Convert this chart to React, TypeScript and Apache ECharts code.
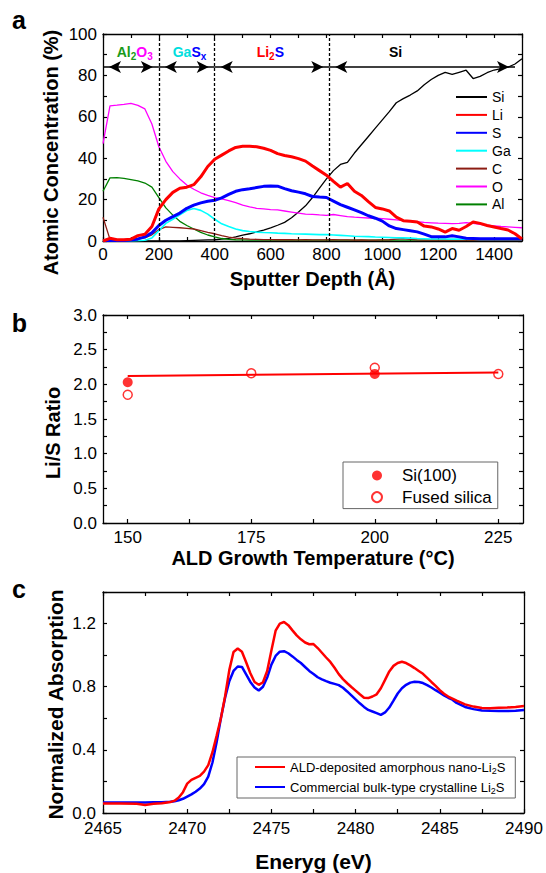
import React, { useEffect, useRef } from 'react';
import * as echarts from 'echarts';

const FONT = '"Liberation Sans", Arial, Helvetica, sans-serif';

// ---------- Panel a: depth profile ----------
const depth = [
  0, 25, 50, 75, 100, 125, 150, 175, 200, 225,
  250, 275, 300, 325, 350, 375, 400, 425, 450, 475,
  500, 525, 550, 575, 600, 625, 650, 675, 700, 725,
  750, 775, 800, 825, 850, 875, 900, 925, 950, 975,
  1000, 1025, 1050, 1075, 1100, 1125, 1150, 1175, 1200, 1225,
  1250, 1275, 1300, 1325, 1350, 1375, 1400, 1425, 1450, 1475,
  1500,
];
const siConc = [
  0, 0, 0, 0, 0, 0, 0, 0, 0, 0,
  0, 0.1, 0.2, 0.3, 0.4, 0.5, 0.6, 0.9, 1.3, 2.0,
  2.8, 3.5, 4.4, 5.3, 6.3, 7.6, 9.0, 11.2, 14.0, 17.0,
  21.0, 25.5, 30.0, 34.0, 37.0, 38.0, 42.5, 46.5, 50.5, 54.5,
  58.5, 62.5, 66.8, 68.8, 70.5, 72.5, 75.5, 78.0, 80.0, 81.5,
  80.5, 81.5, 82.5, 78.5, 79.5, 81.3, 82.6, 83.3, 84.0, 85.5,
  88.0,
];
const liConc = [
  0, 1.3, 0.6, 0.6, 0.9, 2.6, 3.3, 7.0, 15.5, 20.0,
  23.5, 25.5, 26.0, 27.2, 31.0, 36.0, 39.5, 41.5, 43.5, 45.2,
  45.8, 45.8, 45.5, 44.8, 43.8, 42.2, 41.3, 40.7, 39.8, 38.6,
  36.2, 34.0, 31.8, 28.8, 26.0, 27.8, 24.0, 22.0, 19.0, 16.2,
  15.5, 14.5, 11.5, 9.8, 9.5, 9.2, 7.2, 6.8, 5.8, 4.3,
  6.0, 5.2, 7.0, 9.2, 8.5, 7.5, 6.8, 6.0, 5.3, 3.5,
  1.0,
];
const sConc = [
  0.3, 0.3, 0.3, 0.3, 0.5, 1.0, 2.0, 4.0, 7.5, 10.0,
  11.8, 13.5, 15.8, 17.3, 18.4, 19.2, 19.7, 20.8, 22.5, 24.0,
  24.8, 25.2, 25.8, 26.4, 26.6, 26.5, 25.3, 24.3, 23.6, 22.8,
  21.5, 21.2, 21.0, 19.3, 17.6, 16.3, 15.0, 13.7, 12.2, 11.0,
  9.6, 7.3, 6.0, 5.5, 5.0, 4.4, 3.3, 2.1, 2.0, 2.0,
  2.5, 2.0, 1.3, 1.2, 1.1, 1.1, 1.1, 1.1, 1.1, 1.1,
  1.1,
];
const gaConc = [
  0, 0, 0, 0, 0, 0.1, 0.4, 1.5, 5.0, 8.5,
  10.5, 12.7, 14.7, 15.7, 14.8, 13.0, 10.5, 8.3, 7.0, 5.8,
  5.0, 4.6, 4.3, 4.1, 4.0, 3.8, 3.7, 3.5, 3.4, 3.3,
  3.2, 3.1, 3.1, 2.9, 2.7, 2.5, 2.3, 2.2, 2.1, 1.9,
  1.8, 1.7, 1.6, 1.5, 1.4, 1.2, 1.1, 1.0, 1.0, 1.0,
  0.9, 0.9, 0.9, 0.9, 0.8, 0.8, 0.8, 0.8, 0.8, 0.8,
  0.8,
];
const cConc = [
  11.5, 0.8, 0.6, 0.5, 0.6, 1.0, 1.5, 3.0, 5.5, 6.8,
  6.6, 6.4, 6.1, 5.8, 5.0, 4.2, 3.5, 2.6, 1.9, 1.4,
  1.1, 0.9, 0.8, 0.7, 0.7, 0.6, 0.6, 0.6, 0.5, 0.6,
  0.5, 0.5, 0.5, 0.6, 0.5, 0.5, 0.4, 0.5, 0.4, 0.4,
  0.5, 0.6, 0.9, 1.1, 0.8, 0.5, 0.4, 0.4, 0.4, 0.4,
  0.4, 0.4, 0.4, 0.4, 0.4, 0.4, 0.4, 0.4, 0.4, 0.4,
  0.4,
];
const oConc = [
  47.0, 65.3, 65.6, 66.0, 66.5, 65.5, 63.8, 56.5, 45.5, 38.5,
  33.5, 30.0, 27.0, 25.0, 23.3, 22.0, 21.0, 20.3, 19.5, 18.5,
  17.3, 16.5, 15.8, 15.5, 15.2, 15.0, 14.5, 14.0, 13.5, 13.0,
  12.9, 12.6, 12.4, 12.8, 12.3, 11.8, 11.5, 11.3, 11.1, 11.0,
  10.8, 10.5, 10.2, 9.8, 9.6, 9.3, 9.0, 8.8, 8.6, 8.5,
  8.4, 8.5, 8.9, 8.5, 8.0, 7.6, 7.3, 7.0, 6.8, 6.6,
  6.4,
];
const alConc = [
  24.0, 30.5, 30.6, 30.3, 29.7, 29.0, 28.0, 26.0, 21.0, 16.0,
  12.5, 9.5, 7.5, 5.8, 4.2, 2.9, 2.0, 1.2, 0.8, 0.6,
  0.5, 0.4, 0.4, 0.4, 0.4, 0.4, 0.4, 0.4, 0.4, 0.4,
  0.4, 0.4, 0.4, 0.4, 0.4, 0.4, 0.4, 0.4, 0.4, 0.4,
  0.4, 0.4, 0.4, 0.4, 0.4, 0.4, 0.4, 0.4, 0.4, 0.4,
  0.4, 0.4, 0.4, 0.4, 0.4, 0.4, 0.4, 0.4, 0.4, 0.4,
  0.4,
];
const elementNames = ['Si', 'Li', 'S', 'Ga', 'C', 'O', 'Al'];
const layerSpans = [[0, 200], [200, 400], [400, 810], [810, 1475]];
const layerDividers = [200, 400, 810];
const arrowLevel = 84;

// ---------- Panel b: Li/S ratio ----------
const siTemps = [150, 200];
const siRatio = [2.03, 2.15];
const fusedTemps = [150, 175, 200, 225];
const fusedRatio = [1.85, 2.16, 2.24, 2.15];
const fitTemps = [150, 225];
const fitRatio = [2.12, 2.17];
const tempTickValues = [150, 162.5, 175, 187.5, 200, 212.5, 225];
const tempLabelValues = [150, 175, 200, 225];

// ---------- Panel c: XANES ----------
const energy = [
  2465, 2466, 2467, 2467.5, 2468, 2468.5,
  2469, 2469.25, 2469.5, 2469.75,
  2470, 2470.25, 2470.5, 2470.75,
  2471, 2471.25, 2471.5, 2471.75,
  2472, 2472.25, 2472.5, 2472.75,
  2473, 2473.25, 2473.5, 2473.75,
  2474, 2474.25, 2474.5, 2474.75,
  2475, 2475.25, 2475.5, 2475.75,
  2476, 2476.25, 2476.5, 2476.75,
  2477, 2477.25, 2477.5, 2477.75,
  2478, 2478.25, 2478.5, 2478.75,
  2479, 2479.25, 2479.5, 2479.75,
  2480, 2480.25, 2480.5, 2480.75,
  2481, 2481.25, 2481.5, 2481.75,
  2482, 2482.25, 2482.5, 2482.75,
  2483, 2483.25, 2483.5, 2483.75,
  2484, 2484.25, 2484.5, 2484.75,
  2485, 2485.25, 2485.5, 2485.75,
  2486, 2486.5, 2487, 2487.5, 2488, 2488.5, 2489, 2489.5, 2490,
];
const aldAbs = [
  0.060, 0.060, 0.058, 0.050, 0.058, 0.062,
  0.069, 0.078, 0.098, 0.132,
  0.186, 0.210, 0.223, 0.235,
  0.262, 0.303, 0.385, 0.490,
  0.600, 0.740, 0.905, 1.020,
  1.042, 1.022, 0.955, 0.885,
  0.830, 0.812, 0.828, 0.900,
  1.030, 1.155, 1.200, 1.210,
  1.190, 1.157, 1.125, 1.100,
  1.080, 1.069, 1.070, 1.045,
  1.015, 0.985, 0.957, 0.920,
  0.880, 0.848, 0.822, 0.798,
  0.775, 0.752, 0.730, 0.728,
  0.738, 0.752, 0.790, 0.843,
  0.897, 0.932, 0.950, 0.958,
  0.950, 0.935, 0.918, 0.900,
  0.882, 0.856, 0.830, 0.805,
  0.778, 0.755, 0.738, 0.725,
  0.712, 0.688, 0.674, 0.665, 0.664, 0.667, 0.668, 0.672, 0.678,
];
const bulkAbs = [
  0.067, 0.067, 0.067, 0.067, 0.068, 0.068,
  0.071, 0.075, 0.081, 0.090,
  0.104, 0.118, 0.135, 0.155,
  0.183, 0.230, 0.320, 0.450,
  0.600, 0.730, 0.835, 0.900,
  0.928, 0.925, 0.878, 0.830,
  0.795, 0.776, 0.800, 0.858,
  0.940, 0.995, 1.022, 1.025,
  1.012, 0.992, 0.970, 0.950,
  0.925, 0.900, 0.881, 0.860,
  0.846, 0.835, 0.825, 0.818,
  0.810, 0.793, 0.770, 0.745,
  0.720, 0.695, 0.672, 0.653,
  0.643, 0.633, 0.622, 0.637,
  0.668, 0.712, 0.757, 0.790,
  0.812, 0.826, 0.831, 0.830,
  0.823, 0.810, 0.795, 0.778,
  0.762, 0.745, 0.730, 0.718,
  0.697, 0.672, 0.658, 0.650, 0.647, 0.646, 0.646, 0.648, 0.653,
];
const ALD_NAME = 'ALD-deposited amorphous nano-Li2S';
const BULK_NAME = 'Commercial bulk-type crystalline Li2S';

// ---------- helpers ----------
const pairs = (xs: number[], ys: number[]) => xs.map((x, i) => [x, ys[i]]);
const isMult = (v: number, step: number) => Math.abs(v / step - Math.round(v / step)) < 1e-6;

const axisLine = { show: true, onZero: false, lineStyle: { color: '#000', width: 1.3 } };
const tickStyle = (extra: any = {}) => ({
  show: true, inside: true, length: 4, lineStyle: { color: '#000', width: 1.2 }, ...extra,
});
const labelStyle = (extra: any) => ({
  show: true, fontSize: 17, lineHeight: 14, fontFamily: FONT, color: '#000', ...extra,
});
const nameStyle = (size: number, extra: any = {}) => ({
  fontSize: size, lineHeight: 18, fontWeight: 'bold', fontFamily: FONT, color: '#000', ...extra,
});
const baseAxis = (gridIndex: number, position: string, min: number, max: number, extra: any) => ({
  type: 'value', gridIndex, position, min, max,
  splitLine: { show: false },
  axisLine,
  axisTick: tickStyle(),
  axisLabel: { show: false },
  nameMoveOverlap: false,
  ...extra,
});

const lineSeries = (name: string, ys: number[], color: string, width: number, z: number) => ({
  name, type: 'line', xAxisIndex: 0, yAxisIndex: 0,
  data: pairs(depth, ys), symbol: 'none', z,
  lineStyle: { color, width }, itemStyle: { color },
});

function buildOption() {
  const xAxis = [
    baseAxis(0, 'bottom', 0, 1500, {
      interval: 100,
      axisLabel: labelStyle({ margin: 6.5, formatter: (v: number) => (isMult(v, 200) ? String(v) : '') }),
      name: 'Sputter Depth (Å)', nameLocation: 'middle', nameGap: 29, nameTextStyle: nameStyle(20),
    }),
    baseAxis(0, 'top', 0, 1500, { interval: 100 }),
    baseAxis(1, 'bottom', 145, 230, {
      axisTick: tickStyle({ customValues: tempTickValues }),
      axisLabel: labelStyle({ margin: 7, customValues: tempLabelValues }),
      name: 'ALD Growth Temperature (°C)', nameLocation: 'middle', nameGap: 25.5, nameTextStyle: nameStyle(20),
    }),
    baseAxis(1, 'top', 145, 230, { axisTick: tickStyle({ customValues: tempTickValues }) }),
    baseAxis(2, 'bottom', 2465, 2490, {
      interval: 2.5,
      axisLabel: labelStyle({ margin: 8.5, formatter: (v: number) => (isMult(v, 5) ? String(v) : '') }),
      name: 'Eneryg (eV)', nameLocation: 'middle', nameGap: 39.5, nameTextStyle: nameStyle(21),
    }),
    baseAxis(2, 'top', 2465, 2490, { interval: 2.5 }),
  ];
  const yAxis = [
    baseAxis(0, 'left', 0, 100, {
      interval: 10,
      axisLabel: labelStyle({ margin: 6, formatter: (v: number) => (isMult(v, 20) ? String(v) : '') }),
      name: 'Atomic Concentration (%)', nameLocation: 'middle', nameGap: 43,
      nameTextStyle: nameStyle(20, { padding: [0, 30, 0, 0] }),
    }),
    baseAxis(0, 'right', 0, 100, { interval: 10 }),
    baseAxis(1, 'left', 0, 3, {
      interval: 0.25,
      axisLabel: labelStyle({ margin: 6, formatter: (v: number) => (isMult(v, 0.5) ? v.toFixed(1) : '') }),
      name: 'Li/S Ratio', nameLocation: 'middle', nameGap: 41,
      nameTextStyle: nameStyle(20, { padding: [0, 28, 0, 0] }),
    }),
    baseAxis(1, 'right', 0, 3, { interval: 0.25 }),
    baseAxis(2, 'left', 0, 1.4, {
      interval: 0.2,
      axisLabel: labelStyle({ margin: 7, formatter: (v: number) => (isMult(v, 0.4) ? v.toFixed(1) : '') }),
      name: 'Normalized Absorption', nameLocation: 'middle', nameGap: 39,
      nameTextStyle: nameStyle(21, { padding: [0, 4, 0, 0] }),
    }),
    baseAxis(2, 'right', 0, 1.4, { interval: 0.2 }),
  ];

  const richLegend = {
    t: { fontSize: 13, fontFamily: FONT, color: '#000', lineHeight: 16 },
    s: { fontSize: 9, fontFamily: FONT, color: '#000', lineHeight: 9, padding: [7, 0, 0, 0] },
  };

  const legend = [
    {
      orient: 'vertical', left: 455, top: 90, padding: 0,
      itemWidth: 31, itemHeight: 14, itemGap: 3.9, selectedMode: false,
      itemStyle: { opacity: 0 },
      data: elementNames,
      textStyle: { fontSize: 14, fontFamily: FONT, color: '#000' },
    },
    {
      orient: 'vertical', left: 343, top: 462, padding: [5, 6, 3, 28],
      itemWidth: 40, itemHeight: 10, itemGap: 4.6, selectedMode: false,
      borderColor: '#666', borderWidth: 1,
      data: ['Si(100)', 'Fused silica'],
      textStyle: { fontSize: 17, fontFamily: FONT, color: '#000' },
    },
    {
      orient: 'vertical', left: 237, top: 757, padding: [2, 10, 3, 17],
      itemWidth: 30, itemHeight: 13, itemGap: 4, selectedMode: false,
      itemStyle: { opacity: 0 },
      borderColor: '#666', borderWidth: 1,
      data: [ALD_NAME, BULK_NAME],
      formatter: (name: string) => name.replace(/^(.*)Li2S$/, '{t|$1Li}{s|2}{t|S}'),
      textStyle: { fontSize: 13, fontFamily: FONT, color: '#000', rich: richLegend },
    },
  ];

  const series: any[] = [
    lineSeries('Si', siConc, '#000000', 1.3, 3),
    lineSeries('O', oConc, '#ff00ff', 1.3, 3),
    lineSeries('Al', alConc, '#008000', 1.3, 3),
    lineSeries('C', cConc, '#8c1c13', 1.3, 3),
    lineSeries('Ga', gaConc, '#00ffff', 1.6, 3),
    lineSeries('S', sConc, '#0000ff', 3, 4),
    lineSeries('Li', liConc, '#ff0000', 3, 5),
    {
      name: 'layerArrows', type: 'line', xAxisIndex: 0, yAxisIndex: 0, data: [], z: 6,
      markLine: {
        silent: true, animation: false,
        symbol: ['arrow', 'arrow'], symbolSize: [9, 12], symbolOffset: [[0, 6], [0, 6]],
        label: { show: false },
        lineStyle: { color: '#000', width: 1.5, type: 'solid' },
        data: layerSpans.map(([a, b]) => [{ coord: [a, arrowLevel] }, { coord: [b, arrowLevel] }]),
      },
    },
    {
      name: 'layerDividers', type: 'line', xAxisIndex: 0, yAxisIndex: 0, data: [], z: 6,
      markLine: {
        silent: true, animation: false, symbol: 'none',
        label: { show: false },
        lineStyle: { color: '#000', width: 1.3, type: [3, 2] },
        data: layerDividers.map((d) => ({ xAxis: d })),
      },
    },
    {
      name: 'fit', type: 'line', xAxisIndex: 2, yAxisIndex: 2, symbol: 'none', z: 2,
      data: pairs(fitTemps, fitRatio), lineStyle: { color: '#ff0000', width: 2 },
    },
    {
      name: 'Si(100)', type: 'scatter', xAxisIndex: 2, yAxisIndex: 2, symbol: 'circle', symbolSize: 10, z: 3,
      data: pairs(siTemps, siRatio), itemStyle: { color: '#ff0000' },
    },
    {
      name: 'Fused silica', type: 'scatter', xAxisIndex: 2, yAxisIndex: 2, symbol: 'circle', symbolSize: 9, z: 4,
      data: pairs(fusedTemps, fusedRatio),
      itemStyle: { color: 'rgba(255,0,0,0)', borderColor: '#ff0000', borderWidth: 1.5 },
    },
    {
      name: BULK_NAME, type: 'line', xAxisIndex: 4, yAxisIndex: 4, symbol: 'none', z: 3,
      data: pairs(energy, bulkAbs), lineStyle: { color: '#0000ff', width: 2.5 }, itemStyle: { color: '#0000ff' },
    },
    {
      name: ALD_NAME, type: 'line', xAxisIndex: 4, yAxisIndex: 4, symbol: 'none', z: 4,
      data: pairs(energy, aldAbs), lineStyle: { color: '#ff0000', width: 2.5 }, itemStyle: { color: '#ff0000' },
    },
  ];

  const tok = (fill: string, sub = false) =>
    sub
      ? { fill, fontSize: 10, fontWeight: 'bold', fontFamily: FONT, lineHeight: 10, padding: [10, 0, 0, 0] }
      : { fill, fontSize: 14, fontWeight: 'bold', fontFamily: FONT, lineHeight: 20 };
  const rich = {
    g: tok('#1a9a1a'), gs: tok('#1a9a1a', true),
    m: tok('#ff00ff'), ms: tok('#ff00ff', true),
    c: tok('#00dede'),
    b: tok('#0000ff'), bs: tok('#0000ff', true),
    r: tok('#ff0000'), rs: tok('#ff0000', true),
    k: tok('#000000'),
  };
  const layerLabel = (x: number, text: string) => ({
    type: 'text', x, y: 51.5, z: 10, silent: true,
    style: { text, rich, align: 'center', verticalAlign: 'middle' },
  });
  const panelLetter = (x: number, y: number, text: string) => ({
    type: 'text', x, y, z: 10, silent: true,
    style: { text, font: `bold 25px ${FONT}`, fill: '#000', align: 'center', verticalAlign: 'middle' },
  });

  const graphic = [
    panelLetter(19, 19.5, 'a'),
    panelLetter(19.5, 323, 'b'),
    panelLetter(19, 589, 'c'),
    layerLabel(134.7, '{g|Al}{gs|2}{m|O}{ms|3}'),
    layerLabel(189.5, '{c|Ga}{b|S}{bs|x}'),
    layerLabel(270.3, '{r|Li}{rs|2}{b|S}'),
    layerLabel(395.5, '{k|Si}'),
  ];

  return {
    animation: false,
    backgroundColor: '#ffffff',
    textStyle: { fontFamily: FONT },
    grid: [
      { left: 103, top: 34, width: 419, height: 207, outerBoundsMode: 'none' },
      { left: 103, top: 315, width: 420, height: 208, outerBoundsMode: 'none' },
      { left: 103, top: 592, width: 421, height: 221, outerBoundsMode: 'none' },
    ],
    xAxis,
    yAxis,
    legend,
    series,
    graphic,
  };
}

export default function App() {
  const ref = useRef<HTMLDivElement>(null);
  useEffect(() => {
    if (!ref.current) return;
    const chart = echarts.init(ref.current, null, { renderer: 'svg' });
    chart.setOption(buildOption() as any);
    return () => chart.dispose();
  }, []);
  return (
    <div
      ref={ref}
      style={{ position: 'absolute', left: 0, top: 0, width: 546, height: 873, background: '#fff' }}
    />
  );
}
